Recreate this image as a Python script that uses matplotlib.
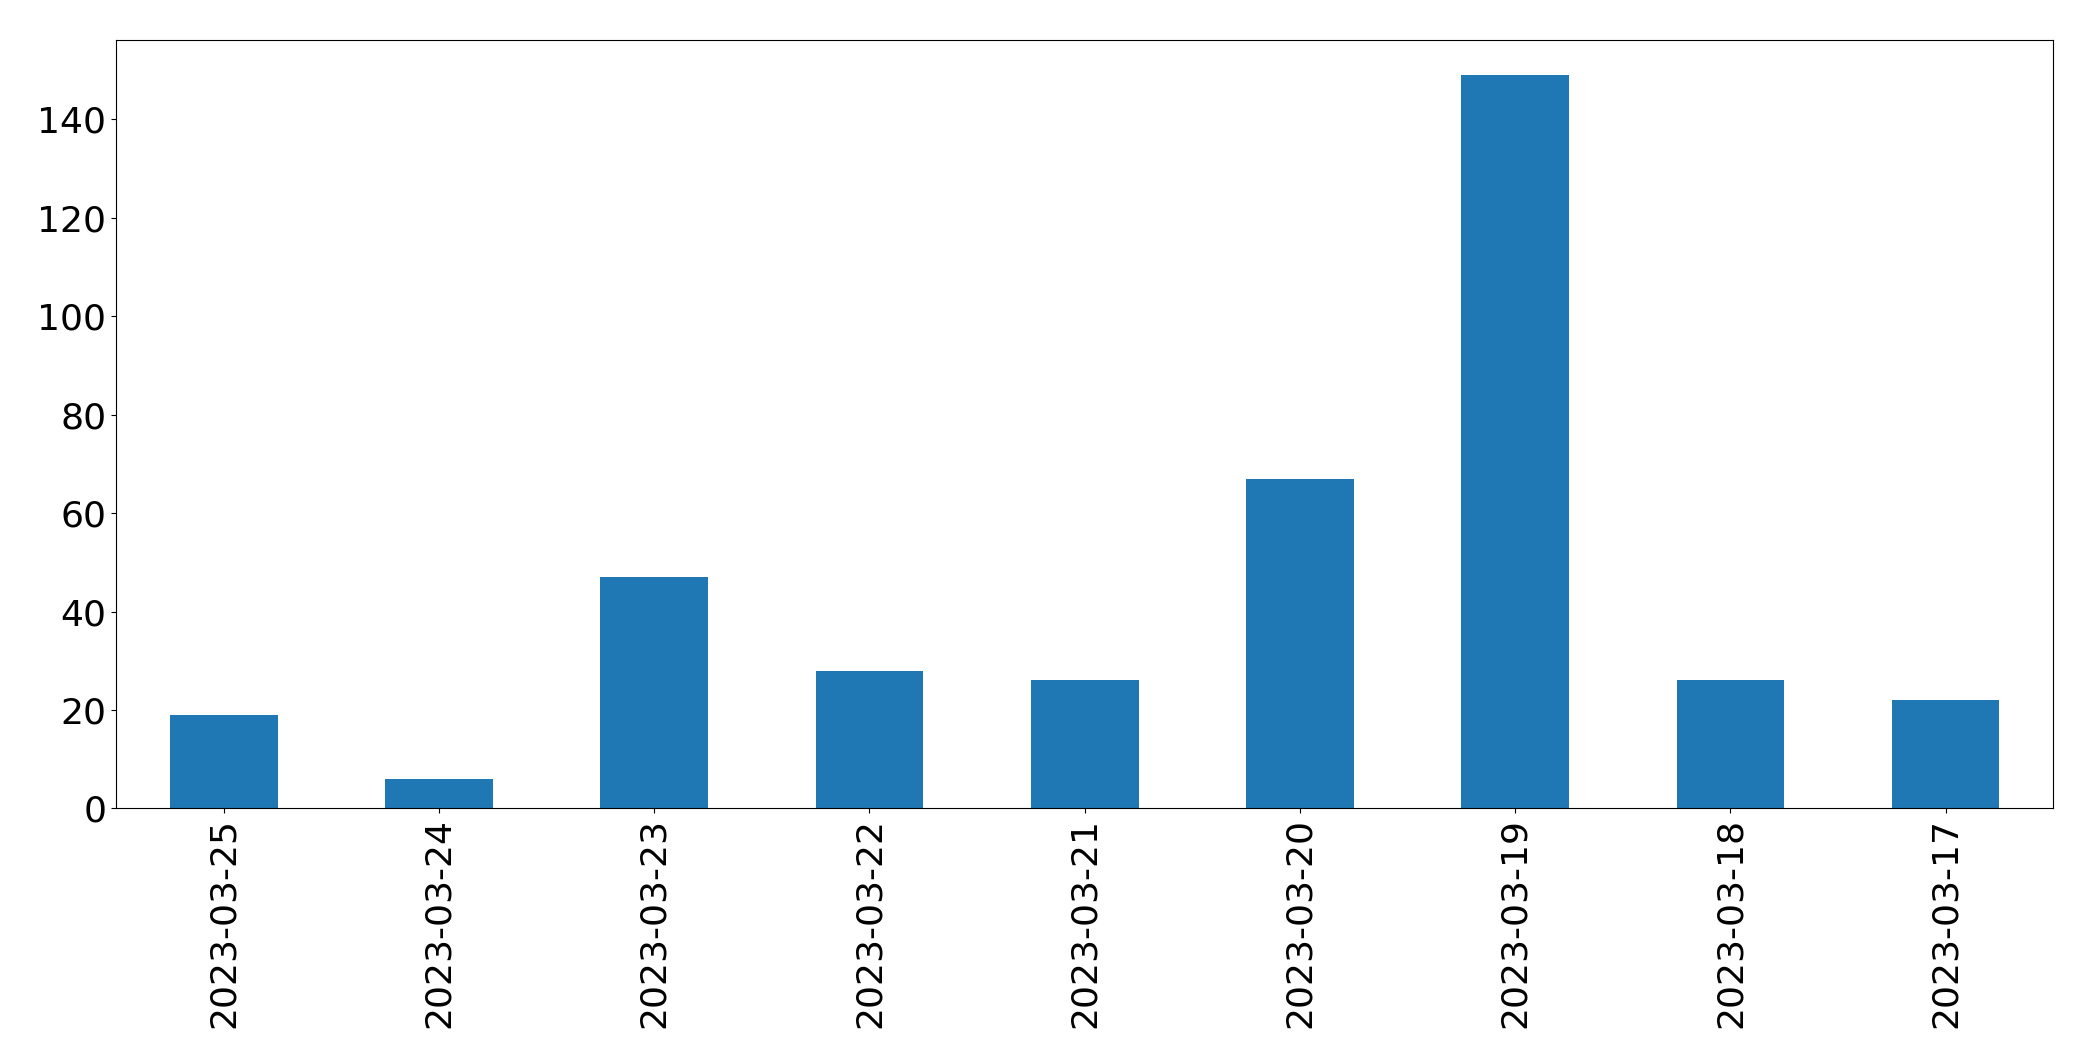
import matplotlib
matplotlib.use("Agg")
import matplotlib.pyplot as plt
import pandas as pd

dates = ["2023-03-25", "2023-03-24", "2023-03-23", "2023-03-22", "2023-03-21",
         "2023-03-20", "2023-03-19", "2023-03-18", "2023-03-17"]
counts = [19, 6, 47, 28, 26, 67, 149, 26, 22]

s = pd.Series(counts, index=dates)

fig = plt.figure(figsize=(20.93, 10.61), dpi=100)
ax = fig.add_axes([0.0555, 0.238, 0.9255, 0.724])
s.plot(kind="bar", ax=ax, color="#1f77b4")
ax.set_ylim(0, 156)
ax.tick_params(axis="both", labelsize=26)
ax.set_yticks([0, 20, 40, 60, 80, 100, 120, 140])
fig.savefig("out.png", dpi=100)
